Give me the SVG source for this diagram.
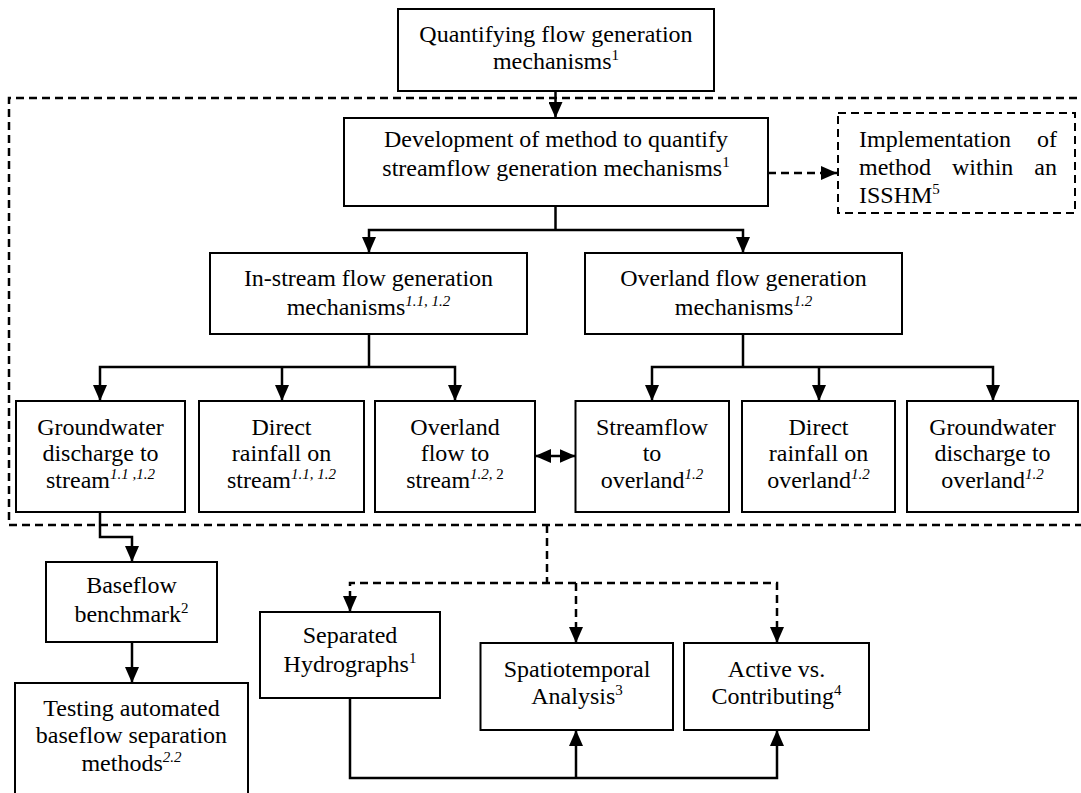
<svg xmlns="http://www.w3.org/2000/svg" width="1081" height="793" viewBox="0 0 1081 793">
<defs>
<marker id="ah" viewBox="0 0 16 14" markerWidth="16" markerHeight="14" refX="16" refY="7" orient="auto-start-reverse" markerUnits="userSpaceOnUse"><path d="M0,0 L16,7 L0,14 z" fill="#000"/></marker>
</defs>
<style>
.box{fill:#fff;stroke:#000;stroke-width:2}
.dbox{fill:#fff;stroke:#000;stroke-width:2;stroke-dasharray:8 5}
.t{font-family:"Liberation Serif","Times New Roman",serif;font-size:24px;fill:#000;text-anchor:middle}
.l{text-anchor:start}
.e{text-anchor:end}
.sup{font-size:15px}
.i{font-style:italic}
.c{fill:none;stroke:#000;stroke-width:2.5}
.d{stroke-dasharray:8 5}
.ma{marker-end:url(#ah)}
.mb{marker-start:url(#ah);marker-end:url(#ah)}
</style>
<rect width="1081" height="793" fill="#fff"/>
<g id="frame">
<path class="c d" d="M1090,98 H9 V525 H1090"/>
</g>
<g id="connectors">
<path class="c ma" d="M555.5,91 V118"/>
<path class="c d ma" d="M768,173 H837"/>
<path class="c" d="M555.5,206 V230"/>
<path class="c mb" d="M369,253 V230 H743 V253"/>
<path class="c" d="M369,334 V367"/>
<path class="c mb" d="M100,401 V367 H455 V401"/>
<path class="c ma" d="M282,367 V401"/>
<path class="c" d="M743,334 V367"/>
<path class="c mb" d="M652,401 V367 H993 V401"/>
<path class="c ma" d="M819,367 V401"/>
<path class="c mb" d="M535,456 H575.5"/>
<path class="c ma" d="M100,512 V537 H132 V562"/>
<path class="c ma" d="M132,642 V683"/>
<path class="c d" d="M547,525 V583"/>
<path class="c d mb" d="M350,612 V583 H777 V643"/>
<path class="c d ma" d="M576,583 V643"/>
<path class="c ma" d="M350,698 V778 H777 V730"/>
<path class="c ma" d="M576,778 V730"/>
</g>
<g id="n-quantifying">
<rect class="box" x="398" y="9" width="316" height="82"/>
<text class="t" x="556" y="42">Quantifying flow generation</text>
<text class="t" x="556" y="69">mechanisms<tspan class="sup" dy="-9">1</tspan></text>
</g>
<g id="n-development">
<rect class="box" x="344" y="118" width="424" height="88"/>
<text class="t" x="556" y="147">Development of method to quantify</text>
<text class="t" x="556" y="176">streamflow generation mechanisms<tspan class="sup" dy="-9">1</tspan></text>
</g>
<g id="n-implementation">
<rect class="dbox" x="838" y="113" width="237" height="100"/>
<text class="t l" x="859" y="147">Implementation</text>
<text class="t e" x="1057" y="147">of</text>
<text class="t l" x="859" y="175">method</text>
<text class="t l" x="952" y="175">within</text>
<text class="t e" x="1057" y="175">an</text>
<text class="t l" x="859" y="203">ISSHM<tspan class="sup" dy="-9">5</tspan></text>
</g>
<g id="n-instream">
<rect class="box" x="210" y="253" width="317" height="81"/>
<text class="t" x="368.5" y="286">In-stream flow generation</text>
<text class="t" x="368.5" y="315">mechanisms<tspan class="sup i" dy="-9">1.1, 1.2</tspan></text>
</g>
<g id="n-overland">
<rect class="box" x="585" y="253" width="317" height="81"/>
<text class="t" x="743.5" y="286">Overland flow generation</text>
<text class="t" x="743.5" y="315">mechanisms<tspan class="sup i" dy="-9">1.2</tspan></text>
</g>
<g id="n-gw-stream">
<rect class="box" x="16" y="401" width="169" height="111"/>
<text class="t" x="100.5" y="435">Groundwater</text>
<text class="t" x="100.5" y="461">discharge to</text>
<text class="t" x="100.5" y="488">stream<tspan class="sup i" dy="-9">1.1 ,1.2</tspan></text>
</g>
<g id="n-rain-stream">
<rect class="box" x="199" y="401" width="165" height="111"/>
<text class="t" x="281.5" y="435">Direct</text>
<text class="t" x="281.5" y="461">rainfall on</text>
<text class="t" x="281.5" y="488">stream<tspan class="sup i" dy="-9">1.1, 1.2</tspan></text>
</g>
<g id="n-overland-stream">
<rect class="box" x="375" y="401" width="160" height="111"/>
<text class="t" x="455" y="435">Overland</text>
<text class="t" x="455" y="461">flow to</text>
<text class="t" x="455" y="488">stream<tspan class="sup" dy="-9"><tspan class="i">1.2</tspan>, 2</tspan></text>
</g>
<g id="n-stream-overland">
<rect class="box" x="575.5" y="401" width="153.5" height="111"/>
<text class="t" x="652" y="435">Streamflow</text>
<text class="t" x="652" y="461">to</text>
<text class="t" x="652" y="488">overland<tspan class="sup i" dy="-9">1.2</tspan></text>
</g>
<g id="n-rain-overland">
<rect class="box" x="742" y="401" width="153" height="111"/>
<text class="t" x="818.5" y="435">Direct</text>
<text class="t" x="818.5" y="461">rainfall on</text>
<text class="t" x="818.5" y="488">overland<tspan class="sup i" dy="-9">1.2</tspan></text>
</g>
<g id="n-gw-overland">
<rect class="box" x="907" y="401" width="171" height="111"/>
<text class="t" x="992.5" y="435">Groundwater</text>
<text class="t" x="992.5" y="461">discharge to</text>
<text class="t" x="992.5" y="488">overland<tspan class="sup i" dy="-9">1.2</tspan></text>
</g>
<g id="n-baseflow">
<rect class="box" x="46" y="562" width="171" height="80"/>
<text class="t" x="131.5" y="593">Baseflow</text>
<text class="t" x="131.5" y="622">benchmark<tspan class="sup" dy="-9">2</tspan></text>
</g>
<g id="n-testing">
<rect class="box" x="15" y="683" width="233" height="130"/>
<text class="t" x="131.5" y="716">Testing automated</text>
<text class="t" x="131.5" y="743">baseflow separation</text>
<text class="t" x="131.5" y="771">methods<tspan class="sup i" dy="-9">2.2</tspan></text>
</g>
<g id="n-separated">
<rect class="box" x="260" y="612" width="180" height="86"/>
<text class="t" x="350" y="643">Separated</text>
<text class="t" x="350" y="672">Hydrographs<tspan class="sup" dy="-9">1</tspan></text>
</g>
<g id="n-spatio">
<rect class="box" x="480.5" y="643" width="192.5" height="87"/>
<text class="t" x="577" y="677">Spatiotemporal</text>
<text class="t" x="577" y="704">Analysis<tspan class="sup" dy="-9">3</tspan></text>
</g>
<g id="n-active">
<rect class="box" x="684" y="643" width="185" height="87"/>
<text class="t" x="776.5" y="677">Active vs.</text>
<text class="t" x="776.5" y="704">Contributing<tspan class="sup" dy="-9">4</tspan></text>
</g>
</svg>
